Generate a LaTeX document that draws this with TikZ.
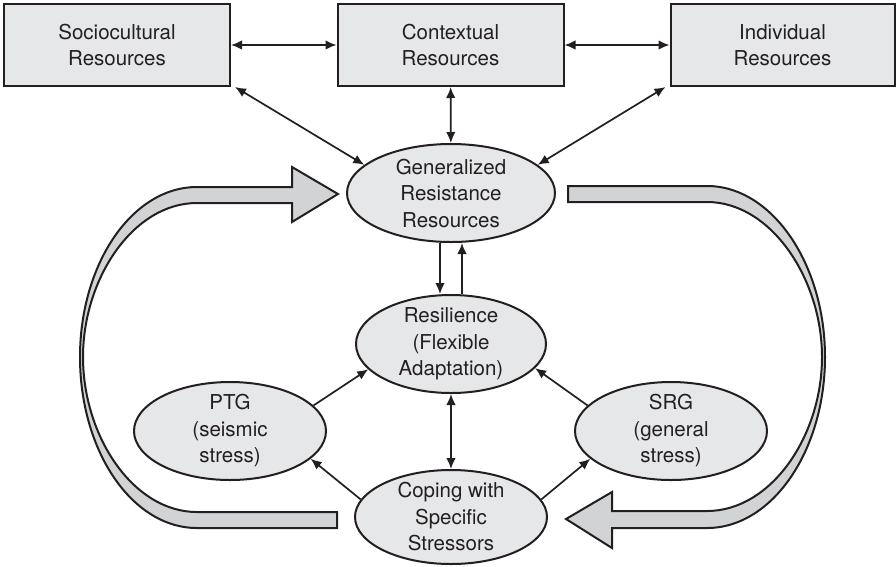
\documentclass[tikz,border=0pt]{standalone}
\usepackage{fontspec}
\setmainfont{TeX Gyre Heros}
\usetikzlibrary{arrows.meta, shapes.geometric}
\definecolor{boxgray}{HTML}{E6E7E8}
\definecolor{bandgray}{HTML}{D1D3D4}
\definecolor{ink}{HTML}{231F20}

\begin{document}
\begin{tikzpicture}[x=1pt, y=-1pt, color=ink, line width=2pt,
	font=\fontsize{20.5}{26.5}\selectfont,
	resbox/.style={draw, fill=boxgray, minimum width=226pt, minimum height=82pt, align=center},
	oval/.style={ellipse, draw, fill=boxgray, inner xsep=0pt, inner ysep=-2pt, align=center},
	arr/.style={-{Latex[length=11pt,width=9.5pt]}, line width=1.7pt},
	dbl/.style={{Latex[length=11pt,width=9.5pt]}-{Latex[length=11pt,width=9.5pt]}, line width=1.7pt},
	band/.style={draw, fill=bandgray, line join=miter}]
\useasboundingbox (0,0) rectangle (896,566);

% big loop arrows
\path[band] (337,512) -- (197,512) .. controls (133,512) and (83,436) .. (83,357)
	.. controls (83,279) and (133,203) .. (197,203) -- (292,203) -- (292,222) -- (338,194)
	-- (292,167) -- (292,187) -- (197,187) .. controls (132,187) and (80,264) .. (80,357)
	.. controls (80,451) and (132,528) .. (197,528) -- (337,528) -- cycle;
\path[band] (568,186) -- (707,186) .. controls (772,186) and (825,264) .. (825,357)
	.. controls (825,451) and (772,528) .. (707,528) -- (612,528) -- (612,548) -- (566,519)
	-- (612,492) -- (612,511) -- (707,511) .. controls (771,511) and (822,436) .. (822,357)
	.. controls (822,279) and (771,202) .. (707,202) -- (568,202) -- cycle;

\node[resbox] (soc) at (117,45) {Sociocultural\\Resources};
\node[resbox] (con) at (450.5,45) {Contextual\\Resources};
\node[resbox, minimum width=224pt] (ind) at (782.5,45) {Individual\\Resources};
\node[oval, minimum width=208pt, minimum height=98pt] (gen) at (451,193) {Generalized\\Resistance\\Resources};
\node[oval, minimum width=190pt, minimum height=98pt] (rsl) at (451,344) {Resilience\\(Flexible\\Adaptation)};
\node[oval, minimum width=192pt, minimum height=98pt] (ptg) at (230,431) {PTG\\(seismic\\stress)};
\node[oval, minimum width=192pt, minimum height=98pt] (srg) at (671,431) {SRG\\(general\\stress)};
\node[oval, minimum width=192pt, minimum height=94pt] (cop) at (451,517) {Coping with\\Specific\\Stressors};

\draw[dbl] (soc) -- (con);
\draw[dbl] (con) -- (ind);
\draw[dbl] ([xshift=4pt]soc.south east) -- (gen.162);
\draw[dbl] (con) -- (gen);
\draw[dbl] ([xshift=-4pt]ind.south west) -- (gen.18);
\draw[arr] ([xshift=-11pt]gen.south) -- ([xshift=-11pt]rsl.north);
\draw[arr] ([xshift=11pt]rsl.north) -- ([xshift=11pt]gen.south);
\draw[dbl] (rsl) -- (cop);
\draw[arr] (ptg.17) -- (rsl.197);
\draw[arr] (cop.169) -- (ptg.341);
\draw[arr] (srg.163) -- (rsl.344);
\draw[arr] (cop.11) -- (srg.199);

\end{tikzpicture}
\end{document}
